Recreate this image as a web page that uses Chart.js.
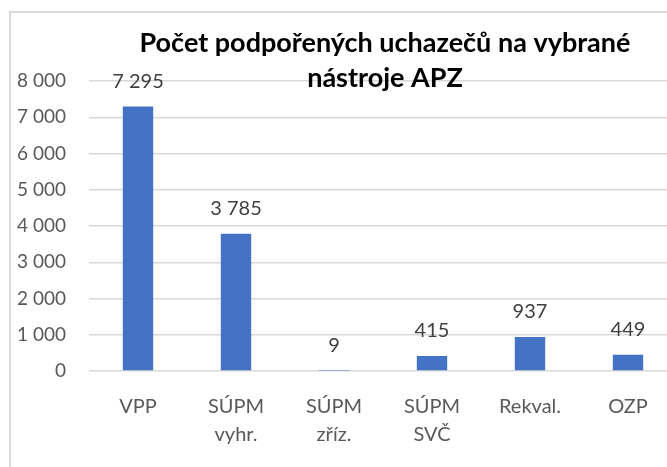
<!DOCTYPE html>
<html>
<head>
<meta charset="utf-8">
<script src="https://cdn.jsdelivr.net/npm/chart.js@4"></script>
<style>
  html, body { margin: 0; padding: 0; background: #fff; overflow: hidden; }
  #wrap { position: absolute; left: 0; top: 0; width: 770px; height: 467px; }
  #frame { position: absolute; left: 9px; top: 11px; width: 800px; height: 500px;
           border-left: 2px solid #d9d9d9; border-top: 2px solid #d9d9d9; }
</style>
</head>
<body>
<div id="frame"></div>
<div id="wrap"><canvas id="barChart" width="770" height="467"></canvas></div>
<script>
  // données
  const categories = [['VPP'], ['SÚPM', 'vyhr.'], ['SÚPM', 'zříz.'], ['SÚPM', 'SVČ'], ['Rekval.'], ['OZP']];
  const values = [7295, 3785, 9, 415, 937, 449];
  const yTicks = [0, 1000, 2000, 3000, 4000, 5000, 6000, 7000, 8000];
  const titleLines = ['Počet podpořených uchazečů na vybrané', 'nástroje APZ'];

  const fmt = v => String(v).replace(/\B(?=(\d{3})+(?!\d))/g, ' ');
  const baseFont = 'Lato, "Open Sans", sans-serif';

  // titre + étiquettes de valeurs
  const labelsPlugin = {
    id: 'labels',
    afterDatasetsDraw(chart) {
      const ctx = chart.ctx;
      const meta = chart.getDatasetMeta(0);
      ctx.save();
      ctx.font = '20px ' + baseFont;
      ctx.fillStyle = '#404040';
      ctx.textAlign = 'center';
      ctx.textBaseline = 'middle';
      meta.data.forEach((bar, i) => {
        ctx.fillText(fmt(values[i]), bar.x, bar.y - 25);
      });
      ctx.font = 'bold 27px ' + baseFont;
      ctx.fillStyle = '#000';
      ctx.textBaseline = 'alphabetic';
      ctx.fillText(titleLines[0], 385, 52);
      ctx.fillText(titleLines[1], 385, 87);
      ctx.restore();
    }
  };

  new Chart(document.getElementById('barChart'), {
    type: 'bar',
    data: {
      labels: categories,
      datasets: [{
        data: values,
        backgroundColor: '#4472c4',
        barPercentage: 0.62,
        categoryPercentage: 0.5
      }]
    },
    options: {
      responsive: false,
      animation: false,
      layout: { padding: { top: 81, right: 93, left: 0, bottom: 0 } },
      plugins: { legend: { display: false }, title: { display: false }, tooltip: { enabled: false } },
      scales: {
        x: {
          grid: { display: false },
          border: { display: false },
          ticks: { color: '#595959', font: { family: baseFont, size: 20, lineHeight: 1.4 }, padding: 14, maxRotation: 0 },
          afterFit: s => { s.height = 96; }
        },
        y: {
          min: 0,
          max: 8000,
          afterBuildTicks: s => { s.ticks = yTicks.map(v => ({ value: v })); },
          grid: { color: '#d9d9d9', lineWidth: 1.5, drawTicks: false },
          border: { display: false },
          ticks: { color: '#595959', font: { family: baseFont, size: 19 }, padding: 23, callback: v => fmt(v) },
          afterFit: s => { s.width = 89; }
        }
      }
    },
    plugins: [labelsPlugin]
  });
</script>
</body>
</html>
